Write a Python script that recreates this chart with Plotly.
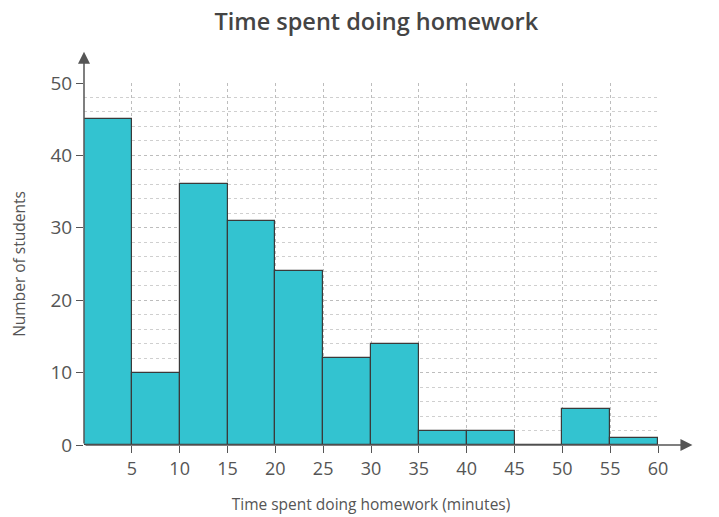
import plotly.graph_objects as go

bin_starts = [0, 5, 10, 15, 20, 25, 30, 35, 40, 45, 50, 55]
bin_width = 5
students = [45, 10, 36, 31, 24, 12, 14, 2, 2, 0, 5, 1]
x_ticks = [5, 10, 15, 20, 25, 30, 35, 40, 45, 50, 55, 60]
y_ticks = [0, 10, 20, 30, 40, 50]

centers = [s + bin_width / 2 for s in bin_starts]

fig = go.Figure()
fig.add_trace(go.Bar(
    x=centers, y=students, width=[bin_width] * len(centers),
    marker=dict(color="#33c3d0", line=dict(color="#3a3a3a", width=1.2)),
    hoverinfo="x+y",
))

font = "Open Sans, sans-serif"
axis_col = "#555555"

fig.update_layout(
    width=711, height=509,
    margin=dict(l=76, r=61, t=75, b=72, autoexpand=False),
    paper_bgcolor="white", plot_bgcolor="white",
    showlegend=False, bargap=0,
    title=dict(text="Time spent doing homework", x=0.518, xanchor="center",
               y=0.973, yanchor="middle",
               font=dict(family=font, size=23.5, color="#444444", weight=600)),
    xaxis=dict(
        range=[0, 60], tickvals=x_ticks, ticks="outside", ticklen=7, tickwidth=1,
        tickcolor=axis_col, showline=False, zeroline=False,
        showgrid=True, gridcolor="#bdbdbd", griddash="dot", gridwidth=1,
        tickfont=dict(family=font, size=18, color="#555555"),
        title=dict(text="Time spent doing homework (minutes)", standoff=20,
                   font=dict(family=font, size=15.5, color="#555555")),
    ),
    yaxis=dict(
        range=[0, 50], tickvals=y_ticks, ticks="outside", ticklen=7, tickwidth=1,
        tickcolor=axis_col, showline=False, zeroline=False,
        showgrid=True, gridcolor="#bdbdbd", griddash="dot", gridwidth=1,
        minor=dict(dtick=2, showgrid=True, gridcolor="#cfcfcf", griddash="dot", ticks=""),
        tickfont=dict(family=font, size=19, color="#555555"),
        title=dict(text="Number of students", standoff=26,
                   font=dict(family=font, size=15.5, color="#555555")),
    ),
)

# axis arrows
fig.add_annotation(x=63.6, y=0, ax=0, ay=0, xref="x", yref="y", axref="x", ayref="y",
                   showarrow=True, arrowhead=2, arrowsize=1.6, arrowwidth=1.5,
                   arrowcolor=axis_col, text="")
fig.add_annotation(x=0, y=54.3, ax=0, ay=0, xref="x", yref="y", axref="x", ayref="y",
                   showarrow=True, arrowhead=2, arrowsize=1.6, arrowwidth=1.5,
                   arrowcolor=axis_col, text="")
fig.add_annotation(x=-0.9, y=54.8, xref="x", yref="y", text="<i>y</i>", showarrow=False,
                   font=dict(family=font, size=17, color="#444444"), yanchor="bottom")

fig.write_html("out.html")
